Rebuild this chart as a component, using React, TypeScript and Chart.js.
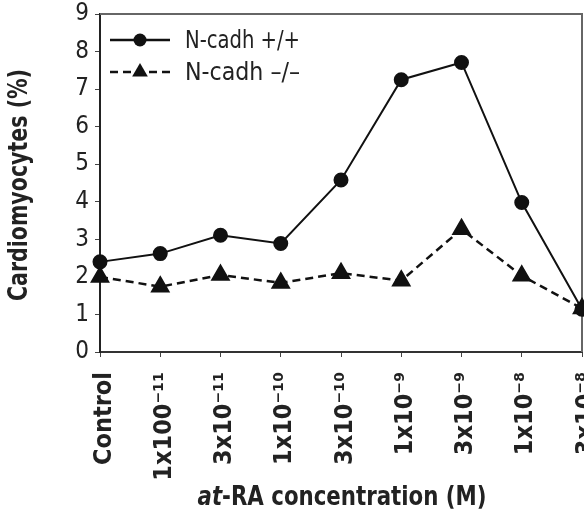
import React, { useEffect, useRef } from "react";
import { Chart, registerables } from "chart.js";

Chart.register(...registerables);

const categories = [
  "Control",
  "1x100⁻¹¹",
  "3x10⁻¹¹",
  "1x10⁻¹⁰",
  "3x10⁻¹⁰",
  "1x10⁻⁹",
  "3x10⁻⁹",
  "1x10⁻⁸",
  "3x10⁻⁸",
];
const wildType = [2.4, 2.62, 3.11, 2.89, 4.58, 7.25, 7.71, 3.98, 1.14];
const knockOut = [2.0, 1.74, 2.05, 1.84, 2.1, 1.9, 3.27, 2.03, 1.16];
const seriesNames = ["N-cadh +/+", "N-cadh –/–"];
const yTitle = "Cardiomyocytes (%)";
const xTitleItalic = "at";
const xTitleRest = "-RA concentration (M)";

const FONT = '"Liberation Sans Narrow", "DejaVu Sans Condensed", "Liberation Sans", sans-serif';

function fitText(ctx: CanvasRenderingContext2D, text: string, x: number, y: number, target: number) {
  const w = ctx.measureText(text).width;
  const s = Math.min(1, target / w);
  ctx.save();
  ctx.translate(x, y);
  ctx.scale(s, 1);
  ctx.fillText(text, 0, 0);
  ctx.restore();
  return w * s;
}

const decorPlugin = {
  id: "decor",
  beforeDatasetsDraw(chart: any) {
    const { ctx, chartArea } = chart;
    ctx.save();
    ctx.strokeStyle = "#666";
    ctx.lineWidth = 2;
    ctx.beginPath();
    ctx.moveTo(chartArea.left, chartArea.top);
    ctx.lineTo(chartArea.right, chartArea.top);
    ctx.lineTo(chartArea.right, chartArea.bottom);
    ctx.stroke();
    ctx.restore();
  },
  afterDraw(chart: any) {
    const { ctx } = chart;
    ctx.save();
    // legend
    const ds = chart.data.datasets;
    const rows = [40, 72];
    ds.forEach((d: any, i: number) => {
      const y = rows[i];
      ctx.strokeStyle = d.borderColor;
      ctx.lineWidth = 2.5;
      ctx.setLineDash(d.borderDash || []);
      ctx.beginPath();
      ctx.moveTo(110, y);
      ctx.lineTo(170, y);
      ctx.stroke();
      ctx.setLineDash([]);
      ctx.fillStyle = d.pointBackgroundColor;
      ctx.beginPath();
      if (d.pointStyle === "triangle") {
        const r = d.pointRadius;
        ctx.moveTo(140, y - r);
        ctx.lineTo(140 + r * 0.87, y + r * 0.5);
        ctx.lineTo(140 - r * 0.87, y + r * 0.5);
        ctx.closePath();
      } else {
        ctx.arc(140, y, d.pointRadius, 0, Math.PI * 2);
      }
      ctx.fill();
      ctx.fillStyle = "#222";
      ctx.font = `25px ${FONT}`;
      ctx.textAlign = "left";
      ctx.textBaseline = "middle";
      fitText(ctx, d.label, 185, y + 1, 115);
    });
    // y title
    ctx.save();
    ctx.translate(20, 185);
    ctx.rotate(-Math.PI / 2);
    ctx.font = `bold 26px ${FONT}`;
    ctx.textAlign = "center";
    ctx.textBaseline = "middle";
    ctx.fillStyle = "#222";
    fitText(ctx, yTitle, 0, 0, 232);
    ctx.restore();
    // x title
    ctx.fillStyle = "#222";
    ctx.textBaseline = "alphabetic";
    ctx.textAlign = "left";
    ctx.font = `italic bold 27px ${FONT}`;
    const w1 = ctx.measureText(xTitleItalic).width;
    ctx.font = `bold 27px ${FONT}`;
    const w2 = ctx.measureText(xTitleRest).width;
    const s = 289 / (w1 + w2);
    const x0 = 342 - 289 / 2;
    ctx.font = `italic bold 27px ${FONT}`;
    fitText(ctx, xTitleItalic, x0, 505, w1 * s);
    ctx.font = `bold 27px ${FONT}`;
    fitText(ctx, xTitleRest, x0 + w1 * s, 505, w2 * s);
    ctx.restore();
  },
};

export default function App() {
  const ref = useRef<HTMLCanvasElement>(null);
  useEffect(() => {
    if (!ref.current) return;
    const chart = new Chart(ref.current, {
      type: "line",
      data: {
        labels: categories,
        datasets: [
          {
            label: seriesNames[0],
            data: wildType,
            borderColor: "#111",
            backgroundColor: "#111",
            pointBackgroundColor: "#111",
            pointBorderColor: "#111",
            borderWidth: 2,
            pointRadius: 6.5,
            pointStyle: "circle",
            clip: false,
          },
          {
            label: seriesNames[1],
            data: knockOut,
            borderColor: "#111",
            backgroundColor: "#111",
            pointBackgroundColor: "#111",
            pointBorderColor: "#111",
            borderWidth: 2.5,
            borderDash: [8, 5],
            pointRadius: 9,
            pointStyle: "triangle",
            clip: false,
          },
        ],
      },
      options: {
        animation: false,
        responsive: true,
        maintainAspectRatio: false,
        layout: { autoPadding: false, padding: { top: 14, right: 2, left: 0, bottom: 0 } },
        plugins: {
          legend: { display: false },
          tooltip: { enabled: false },
        },
        scales: {
          x: {
            offset: false,
            grid: {
              drawOnChartArea: false,
              drawTicks: true,
              tickLength: 5,
              color: "#444",
            },
            border: { display: true, color: "#333", width: 2 },
            ticks: {
              maxRotation: 90,
              minRotation: 90,
              padding: 15,
              labelOffset: 4,
              color: "#222",
              font: { family: FONT, size: 25, weight: "bold" },
              autoSkip: false,
            },
            afterFit(scale: any) {
              scale.height = 511 - 352;
              scale.paddingLeft = 0;
              scale.paddingRight = 0;
            },
          },
          y: {
            min: 0,
            max: 9,
            grid: {
              drawOnChartArea: false,
              drawTicks: true,
              tickLength: 5,
              color: "#444",
            },
            border: { display: true, color: "#222", width: 2 },
            ticks: {
              stepSize: 1,
              padding: 6,
              color: "#222",
              font: { family: FONT, size: 24 },
            },
            afterFit(scale: any) {
              scale.width = 100;
              scale.paddingTop = 0;
              scale.paddingBottom = 0;
            },
          },
        },
      },
      plugins: [decorPlugin],
    });
    return () => chart.destroy();
  }, []);
  return (
    <div style={{ position: "fixed", left: 0, top: 0, width: 584, height: 511, background: "#fff" }}>
      <canvas ref={ref} />
    </div>
  );
}
